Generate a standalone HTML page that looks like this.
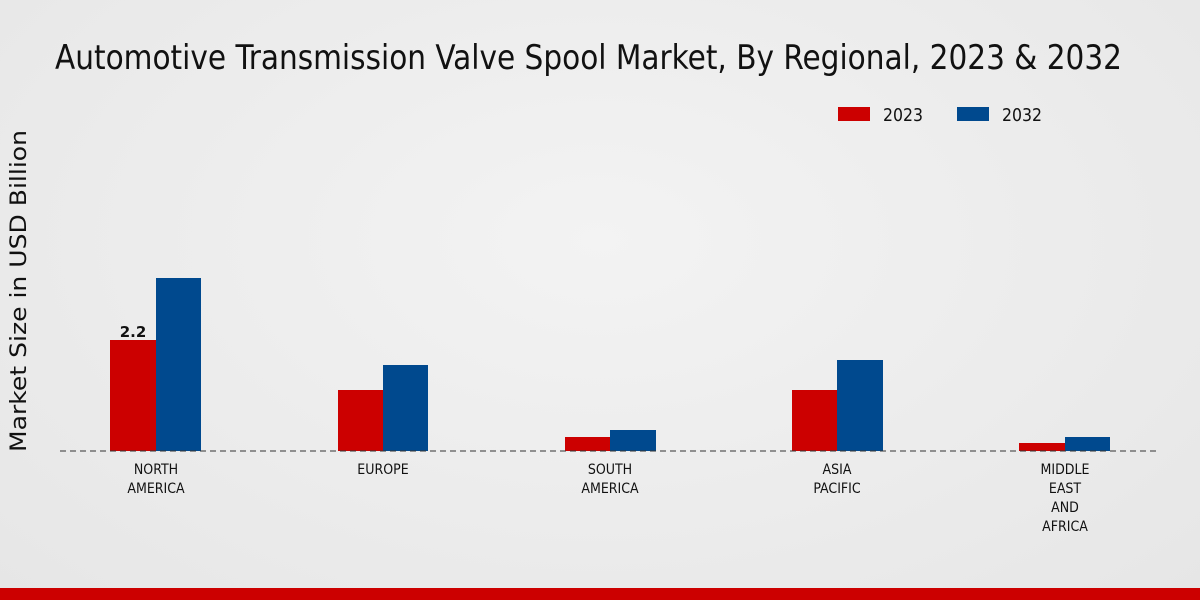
<!DOCTYPE html>
<html><head><meta charset="utf-8"><style>
html,body{margin:0;padding:0}
body{width:1200px;height:600px;overflow:hidden;background:radial-gradient(ellipse at 50% 40%,#f3f3f3 0%,#e6e6e6 100%);font-family:"DejaVu Sans Condensed","DejaVu Sans",sans-serif;position:relative}
</style></head><body>
<svg width="1200" height="600" style="position:absolute;left:0;top:0" font-family="DejaVu Sans Condensed, DejaVu Sans, sans-serif">
<text x="55" y="69" font-size="34" fill="#111" textLength="1067" lengthAdjust="spacingAndGlyphs">Automotive Transmission Valve Spool Market, By Regional, 2023 &amp; 2032</text>
<rect x="838" y="107" width="32" height="14" fill="#cc0000"/>
<text x="883" y="121" font-size="18" fill="#111" textLength="40" lengthAdjust="spacingAndGlyphs">2023</text>
<rect x="957" y="107" width="32" height="14" fill="#00498e"/>
<text x="1002" y="121" font-size="18" fill="#111" textLength="40" lengthAdjust="spacingAndGlyphs">2032</text>
<text transform="translate(26,291) rotate(-90)" text-anchor="middle" font-size="22" fill="#111" font-family="DejaVu Sans, sans-serif" textLength="322" lengthAdjust="spacingAndGlyphs">Market Size in USD Billion</text>
<g>
<rect x="110" y="340" width="46" height="111" fill="#cc0000"/>
<rect x="156" y="278" width="45" height="173" fill="#00498e"/>
<rect x="338" y="390" width="45" height="61" fill="#cc0000"/>
<rect x="383" y="365" width="45" height="86" fill="#00498e"/>
<rect x="565" y="437" width="45" height="14" fill="#cc0000"/>
<rect x="610" y="430" width="46" height="21" fill="#00498e"/>
<rect x="792" y="390" width="45" height="61" fill="#cc0000"/>
<rect x="837" y="360" width="46" height="91" fill="#00498e"/>
<rect x="1019" y="443" width="46" height="8" fill="#cc0000"/>
<rect x="1065" y="437" width="45" height="14" fill="#00498e"/>
</g>
<line x1="60" y1="451" x2="1160" y2="451" stroke="#333" stroke-width="1" stroke-dasharray="6,4"/>
<text x="133" y="337" text-anchor="middle" font-size="15" font-weight="bold" fill="#111" font-family="DejaVu Sans, sans-serif">2.2</text>
<g font-size="14" fill="#111" text-anchor="middle">
<text x="156" y="474">NORTH</text><text x="156" y="493">AMERICA</text>
<text x="383" y="474">EUROPE</text>
<text x="610" y="474">SOUTH</text><text x="610" y="493">AMERICA</text>
<text x="837" y="474">ASIA</text><text x="837" y="493">PACIFIC</text>
<text x="1065" y="474">MIDDLE</text><text x="1065" y="493">EAST</text><text x="1065" y="512">AND</text><text x="1065" y="531">AFRICA</text>
</g>
<rect x="0" y="588" width="1200" height="12" fill="#cc0000"/>
</svg>
</body></html>
